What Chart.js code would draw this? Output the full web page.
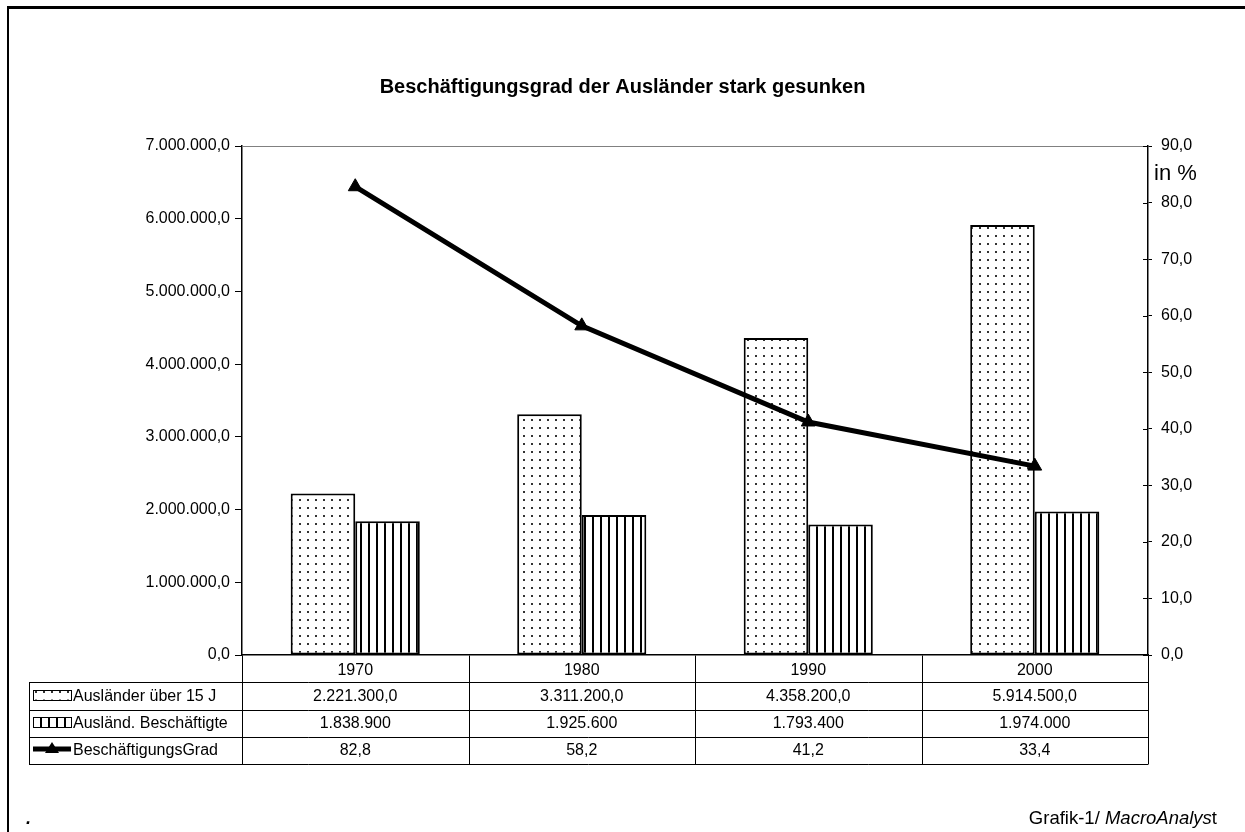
<!DOCTYPE html>
<html>
<head>
<meta charset="utf-8">
<script src="https://cdn.jsdelivr.net/npm/chart.js@4/dist/chart.umd.min.js"></script>
<style>
  html, body { margin: 0; padding: 0; background: #fff; }
  canvas { display: block; }
</style>
</head>
<body>
<canvas id="chart" width="1245" height="832"></canvas>
<script>
// ---- data ----
const years = ['1970', '1980', '1990', '2000'];
const auslaenderUeber15 = [2221300, 3311200, 4358200, 5914500];
const auslBeschaeftigte = [1838900, 1925600, 1793400, 1974000];
const beschaeftigungsGrad = [82.8, 58.2, 41.2, 33.4];
const seriesNames = ['Ausländer über 15 J', 'Ausländ. Beschäftigte', 'BeschäftigungsGrad'];
const leftAxisRange = [0, 7000000, 1000000];
const rightAxisRange = [0, 90, 10];
const titleText = 'Beschäftigungsgrad der Ausländer stark gesunken';
const rightAxisUnit = 'in %';
const footerPrefix = 'Grafik-1/ ';
const footerItalic = 'MacroAnalys';
const footerSuffix = 't';

const FONT = "'Liberation Sans', Arial, sans-serif";
Chart.defaults.font.family = FONT;
Chart.defaults.color = '#000';

// German number formatting: 1.234.567,8
function fmt(v, dec) {
  const fixed = Math.abs(v).toFixed(dec);
  let [intPart, frac] = fixed.split('.');
  intPart = intPart.replace(/\B(?=(\d{3})+(?!\d))/g, '.');
  return (v < 0 ? '-' : '') + intPart + (frac ? ',' + frac : '');
}

// fill patterns for the two bar series
function dotPattern() {
  const c = document.createElement('canvas');
  c.width = 8; c.height = 8;
  const g = c.getContext('2d');
  g.fillStyle = '#fff'; g.fillRect(0, 0, 8, 8);
  g.fillStyle = '#333'; g.fillRect(3, 3, 2, 2);
  return g.createPattern(c, 'repeat');
}
function stripePattern() {
  const c = document.createElement('canvas');
  c.width = 8; c.height = 8;
  const g = c.getContext('2d');
  g.fillStyle = '#fff'; g.fillRect(0, 0, 8, 8);
  g.fillStyle = '#000'; g.fillRect(0, 0, 2, 8);
  return g.createPattern(c, 'repeat');
}
const dots = dotPattern();
const stripes = stripePattern();

const tableRows = [
  { name: seriesNames[0], values: auslaenderUeber15, dec: 1, symbol: 'dots' },
  { name: seriesNames[1], values: auslBeschaeftigte, dec: 0, symbol: 'stripes' },
  { name: seriesNames[2], values: beschaeftigungsGrad, dec: 1, symbol: 'line' }
];

// page frame, background
const framePlugin = {
  id: 'frame',
  beforeDraw(chart) {
    const ctx = chart.ctx;
    ctx.save();
    ctx.fillStyle = '#fff';
    ctx.fillRect(0, 0, chart.width, chart.height);
    ctx.fillStyle = '#000';
    ctx.fillRect(7, 6, chart.width - 7, 3);
    ctx.fillRect(7, 6, 2, chart.height - 6);
    ctx.restore();
  }
};

// plot-area outline, inner right ticks, unit label, data table, footer
const extrasPlugin = {
  id: 'extras',
  afterDraw(chart) {
    const ctx = chart.ctx;
    const area = chart.chartArea;
    const y2 = chart.scales.y2;
    ctx.save();

    // grey top edge of plot area
    ctx.strokeStyle = '#808080';
    ctx.lineWidth = 1;
    ctx.beginPath();
    ctx.moveTo(area.left, Math.round(area.top) + 0.5);
    ctx.lineTo(area.right, Math.round(area.top) + 0.5);
    ctx.stroke();

    // inner half of right-axis ticks
    ctx.strokeStyle = '#000';
    y2.ticks.forEach((t, i) => {
      const py = Math.round(y2.getPixelForTick(i)) + 0.5;
      ctx.beginPath();
      ctx.moveTo(area.right - 5, py);
      ctx.lineTo(area.right, py);
      ctx.stroke();
    });

    // unit label on the right axis
    ctx.font = '22px ' + FONT;
    ctx.fillStyle = '#000';
    ctx.textAlign = 'left';
    ctx.textBaseline = 'middle';
    ctx.fillText(rightAxisUnit, area.right + 6, 174);

    // data table below the axis
    const n = years.length;
    const colW = (area.right - area.left) / n;
    const tableLeft = 29;
    const rowH = 27.25;
    const y0 = area.bottom;
    const rowY = [0, 1, 2, 3, 4].map(k => Math.round(y0 + k * rowH) + 0.5);
    ctx.strokeStyle = '#000';
    ctx.lineWidth = 1;
    ctx.beginPath();
    for (let k = 1; k <= 4; k++) {
      ctx.moveTo(tableLeft, rowY[k]);
      ctx.lineTo(area.right, rowY[k]);
    }
    ctx.moveTo(tableLeft + 0.5, rowY[1]);
    ctx.lineTo(tableLeft + 0.5, rowY[4]);
    for (let c = 0; c <= n; c++) {
      const px = Math.round(area.left + c * colW) + 0.5;
      ctx.moveTo(px, rowY[0]);
      ctx.lineTo(px, rowY[4]);
    }
    ctx.stroke();

    ctx.font = '16px ' + FONT;
    tableRows.forEach((row, r) => {
      const cy = (rowY[r + 1] + rowY[r + 2]) / 2;
      // legend key
      const kx = 33, kw = 38;
      if (row.symbol === 'line') {
        ctx.fillStyle = '#000';
        ctx.fillRect(kx, cy - 4.5, kw, 5);
        const tx = kx + kw / 2, ty = cy - 2;
        ctx.beginPath();
        ctx.moveTo(tx, ty - 7);
        ctx.lineTo(tx + 7, ty + 4);
        ctx.lineTo(tx - 7, ty + 4);
        ctx.closePath();
        ctx.fill();
      } else {
        ctx.fillStyle = row.symbol === 'dots' ? dots : stripes;
        ctx.fillRect(kx, cy - 7, kw, 10);
        ctx.strokeStyle = '#000';
        ctx.lineWidth = 1;
        ctx.strokeRect(kx + 0.5, Math.round(cy - 7) + 0.5, kw, 10);
      }
      ctx.fillStyle = '#000';
      ctx.textAlign = 'left';
      ctx.textBaseline = 'middle';
      ctx.fillText(row.name, 73, cy);
      ctx.textAlign = 'center';
      row.values.forEach((v, i) => {
        ctx.fillText(fmt(v, row.dec), chart.scales.x.getPixelForValue(i), cy);
      });
    });

    // footer
    ctx.textBaseline = 'alphabetic';
    ctx.textAlign = 'left';
    const base = 824;
    const fNormal = '18.5px ' + FONT;
    const fItalic = 'italic 18.5px ' + FONT;
    ctx.font = fNormal;
    const wPre = ctx.measureText(footerPrefix).width;
    const wSuf = ctx.measureText(footerSuffix).width;
    ctx.font = fItalic;
    const wIt = ctx.measureText(footerItalic).width;
    let fx = 1217 - wPre - wIt - wSuf;
    ctx.font = fNormal;
    ctx.fillText(footerPrefix, fx, base); fx += wPre;
    ctx.font = fItalic;
    ctx.fillText(footerItalic, fx, base); fx += wIt;
    ctx.font = fNormal;
    ctx.fillText(footerSuffix, fx, base);
    ctx.font = 'bold italic 18px ' + FONT;
    ctx.fillText('.', 26, base);

    ctx.restore();
  }
};

const tickFont = { family: FONT, size: 16 };

new Chart(document.getElementById('chart').getContext('2d'), {
  data: {
    labels: years,
    datasets: [
      {
        type: 'bar', label: seriesNames[0], data: auslaenderUeber15, yAxisID: 'y',
        backgroundColor: dots, borderColor: '#000', borderWidth: 2, borderSkipped: false,
        categoryPercentage: 0.57, barPercentage: 1, order: 2
      },
      {
        type: 'bar', label: seriesNames[1], data: auslBeschaeftigte, yAxisID: 'y',
        backgroundColor: stripes, borderColor: '#000', borderWidth: 2, borderSkipped: false,
        categoryPercentage: 0.57, barPercentage: 1, order: 2
      },
      {
        type: 'line', label: seriesNames[2], data: beschaeftigungsGrad, yAxisID: 'y2',
        borderColor: '#000', borderWidth: 5, tension: 0, fill: false,
        pointStyle: 'triangle', pointRadius: 8, pointBackgroundColor: '#000',
        pointBorderColor: '#000', pointBorderWidth: 1, order: 1
      }
    ]
  },
  options: {
    responsive: false,
    animation: false,
    devicePixelRatio: 1,
    layout: { padding: 0 },
    plugins: {
      legend: { display: false },
      tooltip: { enabled: false },
      title: {
        display: true, text: titleText, color: '#000',
        font: { family: FONT, size: 20, weight: 'bold' },
        padding: { top: 75, bottom: 47 }
      }
    },
    scales: {
      x: {
        grid: { display: false, drawTicks: false },
        border: { display: true, color: '#000', width: 1.5 },
        ticks: { color: '#000', font: tickFont, padding: 6 },
        afterFit(s) { s.height = 177; }
      },
      y: {
        position: 'left',
        min: leftAxisRange[0], max: leftAxisRange[1],
        ticks: { stepSize: leftAxisRange[2], color: '#000', font: tickFont, padding: 5,
                 callback: v => fmt(v, 1) },
        grid: { drawOnChartArea: false, tickLength: 7, color: '#000' },
        border: { color: '#000', width: 1.5 },
        afterFit(s) { s.width = 242; }
      },
      y2: {
        position: 'right',
        min: rightAxisRange[0], max: rightAxisRange[1],
        ticks: { stepSize: rightAxisRange[2], color: '#000', font: tickFont, padding: 9,
                 callback: v => fmt(v, 1) },
        grid: { drawOnChartArea: false, tickLength: 4, color: '#000' },
        border: { color: '#000', width: 1.5 },
        afterFit(s) { s.width = 97; }
      }
    }
  },
  plugins: [framePlugin, extrasPlugin]
});
</script>
</body>
</html>
